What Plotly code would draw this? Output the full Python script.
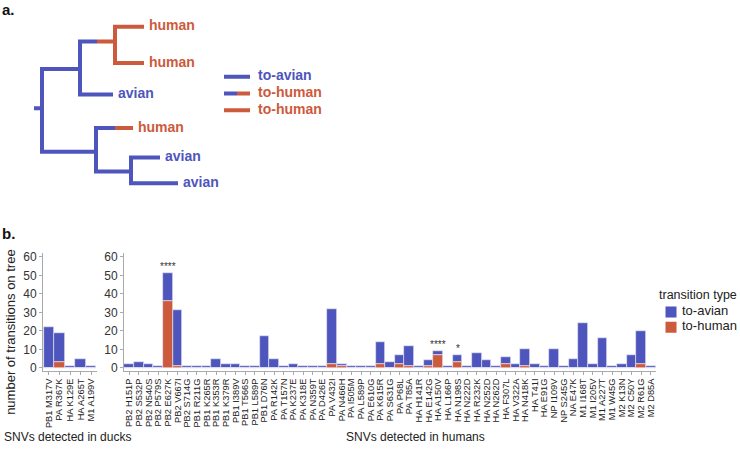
import plotly.graph_objects as go

BLUE = '#4E55BD'
RED = '#CC5A3C'
FONT = 'Liberation Sans, Arial, sans-serif'

# ---------------- data: panel b ----------------
duck_snvs = ["PB1 M317V", "PA R367K", "HA K129E", "HA A265T", "M1 A199V"]
duck_total = [22, 19, 1, 5, 1]
duck_to_human = [0, 3, 0, 0, 0]

human_snvs = [
    "PB2 H151P", "PB2 S532P", "PB2 N540S", "PB2 P579S", "PB2 E627K", "PB2 V667I", "PB2 S714G",
    "PB1 R211G", "PB1 K265R", "PB1 K353R", "PB1 K379R", "PB1 I389V", "PB1 T566S", "PB1 L589P", "PB1 D76N",
    "PA R142K", "PA T157N", "PA K237E", "PA K318E", "PA N359T", "PA D426E", "PA V432I", "PA N466H",
    "PA I505M", "PA L589P", "PA E610G", "PA K615R", "PA S631G", "PA P68L", "PA T85A",
    "HA H141R", "HA E142G", "HA A150V", "HA L166P", "HA N198S", "HA N222D", "HA R232K", "HA N252D",
    "HA N262D", "HA F307L", "HA V322A", "HA N418K", "HA T41I", "HA E91G",
    "NP I109V", "NP S245G", "NA E47K",
    "M1 I168T", "M1 I205V", "M1 A227T", "M1 W45G",
    "M2 K13N", "M2 C50Y", "M2 R61G", "M2 D85A",
]
human_total = [
    2, 3, 2, 1, 51, 31, 1,
    1, 1, 5, 2, 2, 1, 1, 17,
    5, 1, 2, 1, 1, 1, 32, 2,
    1, 1, 1, 14, 3, 7, 12,
    1, 4, 9, 1, 7, 1, 8, 4,
    1, 6, 2, 10, 2, 1,
    10, 1, 5,
    24, 2, 16, 1,
    2, 7, 20, 1,
]
human_to_human = [
    0, 0, 0, 0, 36, 1, 0,
    0, 0, 0, 0, 0, 0, 0, 0,
    0, 0, 0, 0, 0, 0, 2, 1,
    0, 0, 0, 2, 0, 2, 1,
    0, 1, 7, 0, 3, 0, 0, 0,
    0, 2, 0, 1, 0, 0,
    0, 0, 0,
    0, 0, 0, 0,
    0, 0, 2, 0,
]
significance = {"PB2 E627K": "****", "HA A150V": "****", "HA N198S": "*"}

y_ticks = [0, 10, 20, 30, 40, 50, 60]
legend_title = "transition type"
legend_labels = ["to-avian", "to-human"]

# ---------------- data: panel a (tree) ----------------
node_names = ["root", "A", "A1", "h1", "h2", "av1", "B", "h3", "B2", "av2", "av3"]
node_depth = [0, 38, 73, 102, 102, 71, 54, 91, 89, 118, 136]
node_y = [107, 67, 39, 24, 61, 93, 151, 127, 171, 157, 183]
node_parent = [None, "root", "A", "A1", "A1", "A", "root", "B", "B", "B2", "B2"]
node_state = ["avian", "avian", "human", "human", "human", "avian", "avian", "human", "avian", "avian", "avian"]
branch_switch = [None, None, 55, None, None, None, None, 73, None, None, None]
root_stub = -8
tree_legend_labels = ["to-avian", "to-human", "to-human"]
tree_legend_y = [75, 92, 109]
tree_legend_x = [182, 195, 208]

COL = {"avian": BLUE, "human": RED}

fig = go.Figure()

# ---- bars ----
def add_bars(cats, total, to_h, xa, ya):
    to_a = [t - h for t, h in zip(total, to_h)]
    edge = dict(color='rgba(235,235,245,0.9)', width=0.7)
    fig.add_trace(go.Bar(x=cats, y=to_a, name="to-avian", marker=dict(color=BLUE, line=edge),
                         base=to_h, xaxis=xa, yaxis=ya, showlegend=False))
    fig.add_trace(go.Bar(x=cats, y=to_h, name="to-human", marker=dict(color=RED, line=edge),
                         xaxis=xa, yaxis=ya, showlegend=False))

add_bars(duck_snvs, duck_total, duck_to_human, 'x', 'y')
add_bars(human_snvs, human_total, human_to_human, 'x2', 'y2')

# ---- legend for panel b (keys drawn on their own small axis) ----
fig.add_trace(go.Scatter(x=[11, 11], y=[0, 1], mode='markers',
                         marker=dict(symbol='square', size=11, color=[BLUE, RED]),
                         xaxis='x4', yaxis='y4', showlegend=False, hoverinfo='skip'))
fig.add_trace(go.Scatter(x=[22, 22], y=[0, 1], mode='text', text=legend_labels, textposition='middle right',
                         textfont=dict(family=FONT, size=13, color='#222222'),
                         xaxis='x4', yaxis='y4', showlegend=False, hoverinfo='skip'))

# ---- tree ----
segs = {"avian": ([], []), "human": ([], [])}

def seg(state, xs, ys):
    segs[state][0].extend(xs + [None])
    segs[state][1].extend(ys + [None])

seg("avian", [root_stub, node_depth[0]], [node_y[0], node_y[0]])
for i, name in enumerate(node_names):
    children = [j for j, p in enumerate(node_parent) if p == name]
    if not children:
        continue
    children.sort(key=lambda j: node_y[j])
    c1, c2 = children[0], children[-1]
    e1 = branch_switch[c1] if branch_switch[c1] is not None else node_depth[c1]
    e2 = branch_switch[c2] if branch_switch[c2] is not None else node_depth[c2]
    seg(node_state[i], [e1, node_depth[i], node_depth[i], e2], [node_y[c1], node_y[c1], node_y[c2], node_y[c2]])
    for c in (c1, c2):
        if branch_switch[c] is not None:
            seg(node_state[c], [branch_switch[c], node_depth[c]], [node_y[c], node_y[c]])

seg("avian", [tree_legend_x[0], tree_legend_x[2]], [tree_legend_y[0]] * 2)
seg("avian", [tree_legend_x[0], tree_legend_x[1]], [tree_legend_y[1]] * 2)
seg("human", [tree_legend_x[1], tree_legend_x[2]], [tree_legend_y[1]] * 2)
seg("human", [tree_legend_x[0], tree_legend_x[2]], [tree_legend_y[2]] * 2)

for state in ("avian", "human"):
    fig.add_trace(go.Scatter(x=segs[state][0], y=segs[state][1], mode='lines',
                             line=dict(color=COL[state], width=4), xaxis='x3', yaxis='y3',
                             showlegend=False, hoverinfo='skip'))

leaves = [i for i, n in enumerate(node_names) if n not in node_parent]
fig.add_trace(go.Scatter(
    x=[node_depth[i] + 5 for i in leaves], y=[node_y[i] for i in leaves], mode='text',
    text=["<b>%s</b>" % node_state[i] for i in leaves], textposition='middle right',
    textfont=dict(family=FONT, size=14, color=[COL[node_state[i]] for i in leaves]),
    xaxis='x3', yaxis='y3', showlegend=False, hoverinfo='skip'))
fig.add_trace(go.Scatter(
    x=[tree_legend_x[2] + 8] * 3, y=tree_legend_y, mode='text',
    text=["<b>%s</b>" % t for t in tree_legend_labels], textposition='middle right',
    textfont=dict(family=FONT, size=14, color=[BLUE, RED, RED]),
    xaxis='x3', yaxis='y3', showlegend=False, hoverinfo='skip'))

# ---- layout ----
W, H = 740, 457
def px_x(p): return p / W
def px_y(p): return 1 - p / H

ydom = [px_y(373.5), px_y(254)]
yaxis_common = dict(range=[-1.5, 62], tickvals=y_ticks, showgrid=False, zeroline=False,
                    showline=True, linecolor='#AAAAAA', linewidth=1, ticks='outside', ticklen=3,
                    tickcolor='#AAAAAA', tickfont=dict(family=FONT, size=12, color='#333333'),
                    domain=ydom, fixedrange=True)
xaxis_common = dict(showgrid=False, zeroline=False, showline=True, linecolor='#AAAAAA', linewidth=1,
                    ticks='outside', ticklen=3, tickcolor='#AAAAAA', tickangle=-90,
                    tickfont=dict(family=FONT, size=9.3, color='#222222'), type='category', fixedrange=True)

fig.update_layout(
    width=W, height=H, autosize=False, margin=dict(l=0, r=0, t=0, b=0),
    paper_bgcolor='white', plot_bgcolor='rgba(0,0,0,0)',
    barmode='overlay', bargap=0,
    font=dict(family=FONT, color='#333333'),
    xaxis=dict(**xaxis_common, domain=[px_x(43), px_x(97)], range=[-0.55, len(duck_snvs) - 0.45],
               anchor='y', tickmode='array', tickvals=duck_snvs, ticktext=duck_snvs),
    yaxis=dict(**yaxis_common, anchor='x'),
    xaxis2=dict(**xaxis_common, domain=[px_x(124), px_x(656)], range=[-0.55, len(human_snvs) - 0.45],
                anchor='y2', tickmode='array', tickvals=human_snvs, ticktext=human_snvs),
    yaxis2=dict(**yaxis_common, anchor='x2'),
    xaxis3=dict(domain=[0, 1], range=[-42, W - 42], visible=False, fixedrange=True),
    yaxis3=dict(domain=[px_y(230), 1], range=[230, 0], visible=False, fixedrange=True),
    xaxis4=dict(domain=[px_x(660), 1], range=[0, 80], visible=False, fixedrange=True),
    yaxis4=dict(domain=[px_y(337), px_y(306)], range=[1.5, -0.5], visible=False, fixedrange=True),
    showlegend=False,
)

for cat, txt in significance.items():
    i = human_snvs.index(cat)
    fig.add_annotation(x=cat, y=human_total[i], xref='x2', yref='y2', text=txt, showarrow=False,
                       yanchor='bottom', yshift=-1, font=dict(family=FONT, size=10, color='#333333'))

fig.add_annotation(text=legend_title, x=px_x(657), y=px_y(297), xref='paper', yref='paper',
                   showarrow=False, xanchor='left', yanchor='middle',
                   font=dict(family=FONT, size=12.5, color='#222222'))

for txt, yy in (('<b>a.</b>', 7), ('<b>b.</b>', 234)):
    fig.add_annotation(text=txt, x=px_x(0), y=px_y(yy), xref='paper', yref='paper', showarrow=False,
                       xanchor='left', yanchor='middle', font=dict(family=FONT, size=15, color='#111111'))

fig.add_annotation(text='number of transitions on tree', x=px_x(11), y=px_y(335), xref='paper', yref='paper',
                   showarrow=False, textangle=-90, xanchor='center', yanchor='middle',
                   font=dict(family=FONT, size=13, color='#222222'))
fig.add_annotation(text='SNVs detected in ducks', x=px_x(2), y=px_y(441), xref='paper', yref='paper',
                   showarrow=False, xanchor='left', yanchor='middle', font=dict(family=FONT, size=12, color='#222222'))
fig.add_annotation(text='SNVs detected in humans', x=px_x(415), y=px_y(441), xref='paper', yref='paper',
                   showarrow=False, xanchor='center', yanchor='middle', font=dict(family=FONT, size=12, color='#222222'))

fig.write_html("out.html", config={'displayModeBar': False},
               post_script="document.body.style.margin='0';document.body.style.overflow='hidden';")
